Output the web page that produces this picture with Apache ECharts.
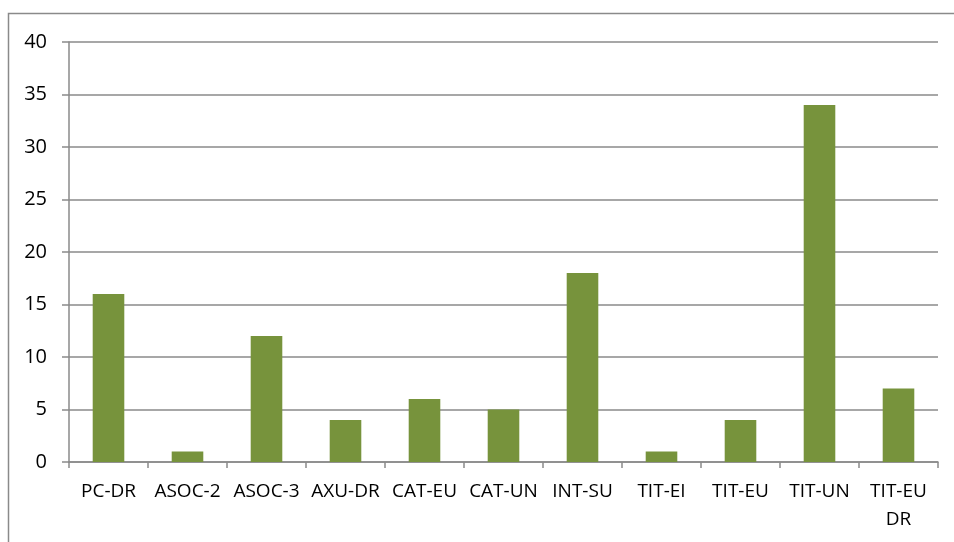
<!DOCTYPE html>
<html><head><meta charset="utf-8">
<script src="https://cdn.jsdelivr.net/npm/echarts@6/dist/echarts.min.js"></script>
<style>html,body{margin:0;padding:0;background:#fff}#c{width:954px;height:542px}</style>
</head><body><div id="c"></div>
<script>
const categories = ["PC-DR","ASOC-2","ASOC-3","AXU-DR","CAT-EU","CAT-UN","INT-SU","TIT-EI","TIT-EU","TIT-UN","TIT-EU\nDR"];
const values = [16,1,12,4,6,5,18,1,4,34,7];
const yTicks = {min:0,max:40,interval:5};
const chart = echarts.init(document.getElementById('c'));
const font = "'Open Sans', 'Liberation Sans', sans-serif";
chart.setOption({
  animation:false,
  graphic:[{type:'rect',shape:{x:8.5,y:13.5,width:1000,height:700},style:{fill:'none',stroke:'#8a8a8a',lineWidth:1.5},silent:true}],
  grid:{left:69,right:16,top:42,bottom:80,containLabel:false},
  xAxis:{type:'category',data:categories,
    axisLine:{lineStyle:{color:'#8a8a8a',width:1.5}},
    axisTick:{show:true,alignWithLabel:false,length:6,lineStyle:{color:'#8a8a8a',width:1.5}},
    axisLabel:{color:'#000',fontFamily:font,fontSize:19,margin:16,lineHeight:28,interval:0}},
  yAxis:{type:'value',min:yTicks.min,max:yTicks.max,interval:yTicks.interval,
    axisLine:{show:true,lineStyle:{color:'#8a8a8a',width:1.5}},
    axisTick:{show:true,length:7,lineStyle:{color:'#8a8a8a',width:1.5}},
    splitLine:{lineStyle:{color:'#8a8a8a',width:1.5}},
    axisLabel:{color:'#000',fontFamily:font,fontSize:20,margin:22}},
  series:[{type:'bar',data:values,barWidth:'40%',itemStyle:{color:'#77933C'}}]
});
</script></body></html>
